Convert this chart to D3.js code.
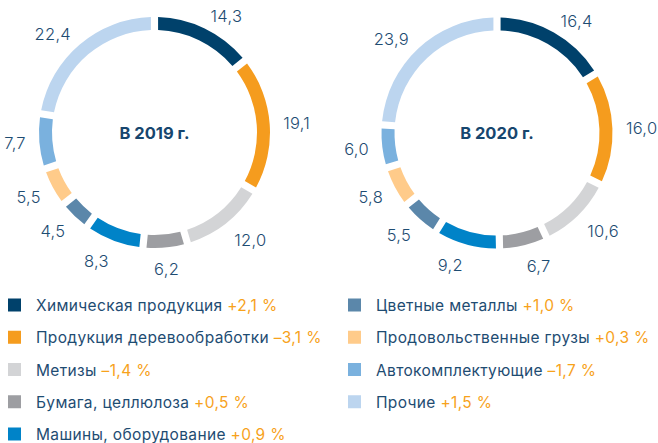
<!DOCTYPE html>
<html lang="ru">
<head>
<meta charset="utf-8">
<script src="https://cdn.jsdelivr.net/npm/d3@7"></script>
<style>
  html, body { margin: 0; padding: 0; background: #ffffff; }
  svg { display: block; font-family: Inter, "Noto Sans", sans-serif; }
</style>
</head>
<body>
<svg id="chart" width="658" height="443"></svg>
<script>
// Cargo categories, in ring order (clockwise from the top)
const categories = [
  "Химическая продукция",
  "Продукция деревообработки",
  "Метизы",
  "Бумага, целлюлоза",
  "Машины, оборудование",
  "Цветные металлы",
  "Продовольственные грузы",
  "Автокомплектующие",
  "Прочие"
];

// Shares of total, %
const values2019 = [14.3, 19.1, 12.0, 6.2, 8.3, 4.5, 5.5, 7.7, 22.4];
const values2020 = [16.4, 16.0, 10.6, 6.7, 9.2, 5.5, 5.8, 6.0, 23.9];

// Change of share, 2020 vs 2019
const changes = ["+2,1 %", "–3,1 %", "–1,4 %", "+0,5 %", "+0,9 %", "+1,0 %", "+0,3 %", "–1,7 %", "+1,5 %"];

const years = ["В 2019 г.", "В 2020 г."];

const colors = ["#00416b", "#f59c1e", "#d3d4d6", "#9d9ea2", "#0083c8",
                "#5b87aa", "#ffcb8a", "#7ab1de", "#bcd5ef"];

const textColor = "#1e4c72";
const accent = "#f7a21b";

const svg = d3.select("#chart");
const fmt = v => d3.format(".1f")(v).replace(".", ",");

const color = d3.scaleOrdinal().domain(categories).range(colors);

const outerR = 115.5, innerR = 102.5, labelR = 129;

const pie = d3.pie().sort(null).value(d => d.value);
const arc = d3.arc().innerRadius(innerR).outerRadius(outerR)
  .padAngle(0.062).padRadius(outerR);

function donut(cx, cy, values, title) {
  const data = categories.map((c, i) => ({ cat: c, value: values[i] }));
  const g = svg.append("g").attr("transform", `translate(${cx},${cy})`);
  const arcs = pie(data);

  g.selectAll("path").data(arcs).join("path")
    .attr("d", arc)
    .attr("fill", d => color(d.data.cat));

  g.selectAll("text.val").data(arcs).join("text")
    .attr("class", "val")
    .each(function (d) {
      const a = (d.startAngle + d.endAngle) / 2;
      const s = Math.sin(a), c = Math.cos(a);
      const x = labelR * s;
      let y = -labelR * c;
      if (c < 0) y += -c * 8;
      d3.select(this)
        .attr("x", x).attr("y", y)
        .attr("text-anchor", s > 0.15 ? "start" : s < -0.15 ? "end" : "middle");
    })
    .attr("dominant-baseline", "central")
    .attr("font-size", 16.5)
    .attr("font-weight", 300)
    .attr("letter-spacing", 0.3)
    .attr("fill", textColor)
    .text(d => fmt(d.data.value));

  g.append("text")
    .attr("text-anchor", "middle")
    .attr("dominant-baseline", "central")
    .attr("font-size", 16.5)
    .attr("font-weight", 700)
    .attr("fill", "#17466e")
    .text(title);
}

donut(154.5, 132.5, values2019, years[0]);
donut(497, 133, values2020, years[1]);

// Legend: two columns
const rowY = d3.scalePoint().domain(d3.range(5)).range([305, 434]);
const legend = svg.append("g");
categories.forEach((c, i) => {
  const col = i < 5 ? 0 : 1;
  const row = i < 5 ? i : i - 5;
  const x0 = col === 0 ? 8 : 348;
  const y = rowY(row);
  const item = legend.append("g");
  item.append("rect")
    .attr("x", x0).attr("y", y - 6.5)
    .attr("width", 13).attr("height", 13)
    .attr("fill", color(c));
  const t = item.append("text")
    .attr("x", x0 + 28).attr("y", y)
    .attr("dominant-baseline", "central")
    .attr("font-size", 15.5)
    .attr("font-weight", 400)
    .attr("letter-spacing", 0.35)
    .attr("fill", textColor);
  t.append("tspan").text(c + " ");
  t.append("tspan").attr("fill", accent).text(changes[i]);
});
</script>
</body>
</html>
